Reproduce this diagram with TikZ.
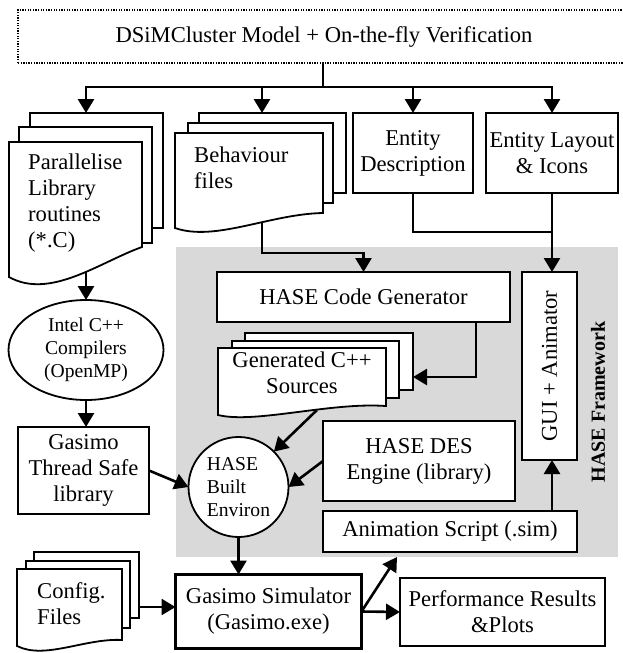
\documentclass[tikz,border=0pt]{standalone}
\usepackage{fontspec}
\setmainfont{Liberation Serif}
\usetikzlibrary{arrows.meta,shapes.geometric,calc}
\definecolor{hasegray}{RGB}{217,217,217}
\begin{document}
\begin{tikzpicture}[x=1pt,y=-1pt,
  box/.style={draw, line width=1.8pt, fill=white, inner sep=0pt, outer sep=0pt,
    font=\fontsize{22.6}{26}\selectfont, align=center},
  small/.style={font=\fontsize{19.6}{23}\selectfont},
  sheet/.style={draw, line width=1.8pt, fill=white, line join=miter},
  conn/.style={line width=2.6pt, -{Triangle[length=14pt,width=16pt]}},
  link/.style={line width=2.6pt},
  txt/.style={font=\fontsize{22.6}{26}\selectfont, inner sep=0pt},
  dotbox/.style={draw, line width=1.3pt, dash pattern=on 1.3pt off 1.3pt,
    inner sep=0pt, font=\fontsize{22.6}{26}\selectfont},
]
\useasboundingbox (0,0) rectangle (623,653);

% HASE framework background
\fill[hasegray] (176,247) rectangle (618,557);

% top box
\node[dotbox, minimum width=612pt, minimum height=53pt] (top) at (324,36.5)
  {DSiMCluster Model + On-the-fly Verification};

% Parallelise stack
\draw[sheet] (30,113) rectangle (163,228);
\draw[sheet] (19,127) rectangle (152,243);
\draw[sheet] (9,142) -- (142,142) -- (142,247) .. controls (100,262) and (50,300) .. (9,277) -- cycle;
\node[txt, anchor=north west, align=left] (partxt) at (28,153.5) {Parallelise\\Library\\routines\\(*.C)};

% Behaviour stack
\draw[sheet] (199,113) rectangle (346,193);
\draw[sheet] (188,123) rectangle (333,203);
\draw[sheet] (175,133) -- (323,133) -- (323,213) .. controls (270,214) and (215,242) .. (175,228) -- cycle;
\node[txt, anchor=north west, align=left] (behtxt) at (194,146.5) {Behaviour\\files};

% Entity boxes
\node[box, minimum width=120pt, minimum height=80pt] (ed) at (413,153) {Entity\\Description};
\node[box, minimum width=132pt, minimum height=80pt] (el) at (552,153) {Entity Layout\\\& Icons};

% HASE code generator and GUI
\node[box, minimum width=293pt, minimum height=50pt] (cg) at (363.5,297) {HASE Code Generator};
\node[box, minimum width=55pt, minimum height=188pt] (gui) at (549.5,366) {\rotatebox{90}{GUI + Animator}};
\node[font=\bfseries\fontsize{20}{24}\selectfont, rotate=90, inner sep=0pt] (hf) at (598,402) {HASE Framework};

% Generated sources stack
\draw[sheet] (245,333) rectangle (413,390);
\draw[sheet] (232,341) rectangle (399,398);
\draw[sheet] (218,348) -- (386,348) -- (386,406) .. controls (330,402) and (255,424) .. (218,415) -- cycle;
\node[txt, anchor=north, align=center] (gentxt) at (302,352) {Generated C++\\Sources};

% DES engine, animation script
\node[box, minimum width=192pt, minimum height=80pt] (des) at (419,461) {HASE DES\\Engine (library)};
\node[box, minimum width=254pt, minimum height=41pt] (anim) at (450,531.5) {Animation Script (.sim)};

% Intel compilers, Gasimo library
\node[box, ellipse, small, minimum width=155pt, minimum height=100pt] (icc) at (86,350) {Intel C++\\Compilers\\(OpenMP)};
\node[box, minimum width=131pt, minimum height=87pt] (gl) at (83.5,470.5) {Gasimo\\Thread Safe\\library};

% HASE built environ
\node[box, circle, small, align=left, minimum size=100pt] (hbe) at (238.5,487) {HASE\\Built\\Environ};

% Config stack
\draw[sheet] (34,552) rectangle (139,618);
\draw[sheet] (26,561) rectangle (130,628);
\draw[sheet] (17,569) -- (122,569) -- (122,640) .. controls (85,638) and (45,660) .. (17,646) -- cycle;
\node[txt, anchor=north west, align=left] (cfgtxt) at (37,582) {Config.\\Files};

% simulator and results
\node[box, line width=3.8pt, minimum width=186pt, minimum height=74pt] (sim) at (268.5,611.5) {Gasimo Simulator\\(Gasimo.exe)};
\node[box, minimum width=205pt, minimum height=68pt] (perf) at (502.5,612) {Performance Results\\\&Plots};

% connectors
\coordinate (split) at (323,87);
\coordinate (parA) at (86,113);
\coordinate (behA) at (262,113);
\draw[link] (top.south -| split) -- (split);
\draw[link, line cap=rect] (split -| parA) -- (split -| el.north);
\draw[conn] (split -| parA) -- (parA);
\draw[conn] (split -| behA) -- (behA);
\draw[conn] (split -| ed.north) -- (ed.north);
\draw[conn] (split -| el.north) -- (el.north);

\coordinate (behB) at (262,222);
\coordinate (behK) at (262,253);
\draw[conn] (behB) -- (behK) -| (cg.north);

\coordinate (entK) at (413,232);
\draw[link] (ed.south) -- (entK) -- (entK -| el.south);
\draw[conn] (el.south) -- (el.south |- gui.north);

\coordinate (cgK) at (476,377);
\coordinate (genR) at (413,377);
\draw[conn] (cg.south -| cgK) -- (cgK) -- (genR);

\coordinate (genB) at (317,410);
\draw[conn] (genB) -- (hbe.north east);
\draw[conn] (des.west) -- (hbe.east);
\draw[conn] (gl.east) -- (hbe.west);
\draw[conn] (hbe.south) -- (hbe.south |- sim.north);

\coordinate (parB) at (86,271);
\draw[conn] (parB) -- (icc.north);
\draw[conn] (icc.south) -- (icc.south |- gl.north);

\coordinate (cfgR) at (139,607);
\draw[conn] (cfgR) -- (cfgR -| sim.west);
\draw[conn] (sim.east) -- (perf.west);
\coordinate (animT) at (397,557);
\draw[conn] (sim.east) -- (animT);
\draw[conn] (anim.north -| el.south) -- (gui.south -| el.south);
\end{tikzpicture}
\end{document}
